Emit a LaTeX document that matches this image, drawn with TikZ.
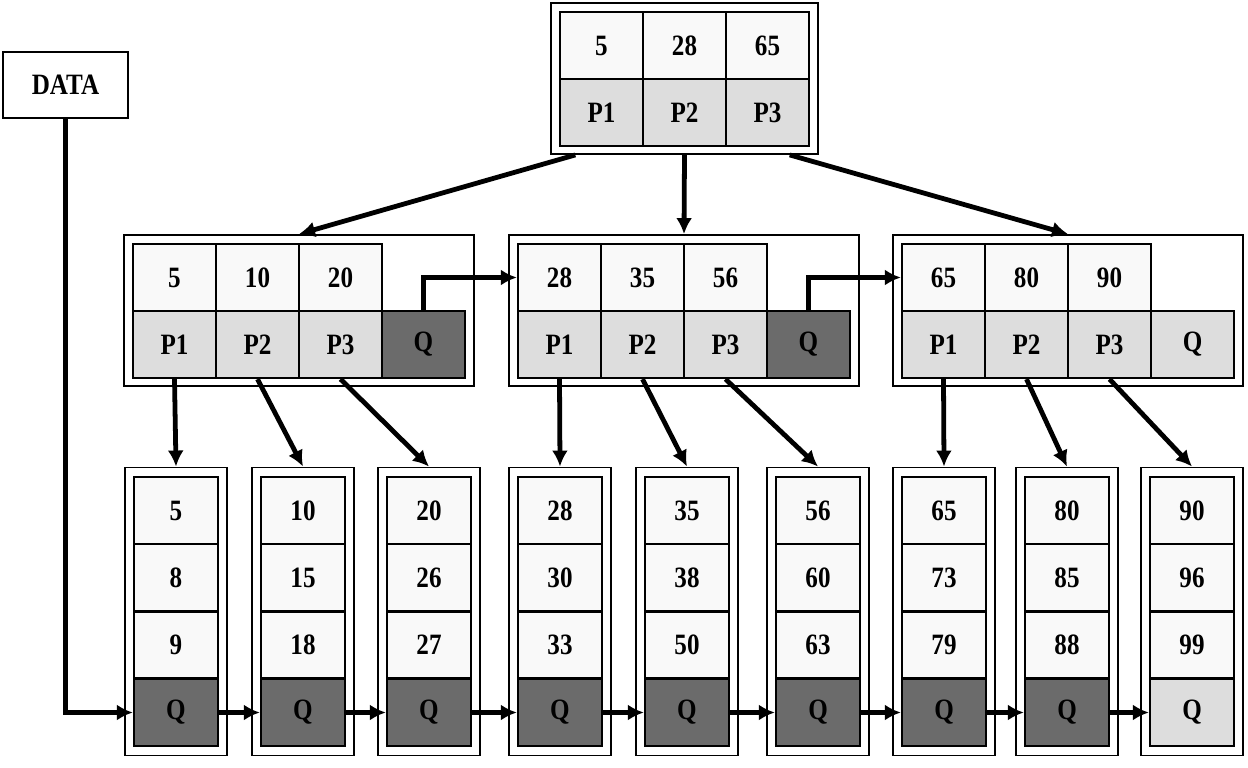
\documentclass[tikz,border=0pt]{standalone}
\usepackage{fontspec}
\setmainfont[FakeStretch=0.85]{Liberation Serif}
\usetikzlibrary{arrows.meta}

\begin{document}
\begin{tikzpicture}[x=0.025cm, y=-0.025cm, >={Latex[length=4mm,width=4mm]},
		font=\fontsize{21}{24}\selectfont\bfseries,
		box/.style={draw, line width=1.3pt, inner sep=0pt},
		keycell/.style={draw, line width=1.6pt, fill=gray!5, inner sep=0pt, minimum width=2.075cm, minimum height=1.675cm},
		ptrcell/.style={keycell, fill=gray!27},
		leafcell/.style={keycell, minimum width=2.1cm, minimum height=1.68cm},
		arr/.style={->, line width=3.4pt}]
		\useasboundingbox (0,0) rectangle (1248,768);
		
		\node[box, minimum width=3.125cm, minimum height=1.65cm] (data) at (65.5,85) {DATA};
		
		\node[box, minimum width=6.675cm, minimum height=3.775cm] (root) at (684.5,78.5) {};
		\foreach \k [count=\j] in {5,28,65} {
			\node[keycell] (rk\j) at (518.5+83*\j,45.5) {\k};
			\node[ptrcell] (rp\j) at (518.5+83*\j,112.5) {P\j};
		}
		
		\foreach \m/\L/\a/\b/\c/\qc in {1/133/5/10/20/black!58, 2/518/28/35/56/black!58, 3/902/65/80/90/gray!27} {
			\node[box, minimum width=8.75cm, minimum height=3.775cm] (m\m) at (\L+166,310.5) {};
			\foreach \k [count=\j] in {\a,\b,\c} {
				\node[keycell] (m\m-k\j) at (\L-41.5+83*\j,277.5) {\k};
				\node[ptrcell] (m\m-p\j) at (\L-41.5+83*\j,344.5) {P\j};
			}
			\node[keycell, fill=\qc] (m\m-q) at (\L+290.5,344.5) {Q};
		}
		
		\foreach \i/\x/\a/\b/\c/\qc in {1/134/5/8/9/black!58, 2/261/10/15/18/black!58, 3/387/20/26/27/black!58,
			4/518/28/30/33/black!58, 5/645/35/38/50/black!58, 6/776/56/60/63/black!58,
			7/902/65/73/79/black!58, 8/1025/80/85/88/black!58, 9/1150/90/96/99/gray!27} {
			\node[box, minimum width=2.55cm, minimum height=7.2cm] (leaf\i) at (\x+42,611.5) {};
			\node[leafcell] (leaf\i-1) at (\x+42,510.5) {\a};
			\node[leafcell] (leaf\i-2) at (\x+42,577.5) {\b};
			\node[leafcell] (leaf\i-3) at (\x+42,645) {\c};
			\node[leafcell, fill=\qc] (leaf\i-q) at (\x+42,712.5) {Q};
		}
		
		% root -> inner nodes
		\draw[arr] (root.215) -- (m1.north);
		\draw[arr] (root.south) -- (m2.north);
		\draw[arr] (root.324) -- (m3.north);
		
		\draw[arr] (m1-q.north) |- (m2-k1.west);
		\draw[arr] (m2-q.north) |- (m3-k1.west);
		
		% inner nodes -> leaves
		\foreach \m/\n in {1/0, 2/3, 3/6}
		\foreach \j in {1,2,3} {
			\pgfmathtruncatemacro\t{\n+\j}
			\draw[arr] (m\m-p\j.south) -- (leaf\t.north);
		}
		
		\foreach \i [evaluate=\i as \nxt using int(\i+1)] in {1,...,8}
		\draw[arr] (leaf\i-q.east) -- (leaf\nxt-q.west);
		
		\draw[arr] (data.south) |- (leaf1-q.west);
	\end{tikzpicture}
\end{document}
